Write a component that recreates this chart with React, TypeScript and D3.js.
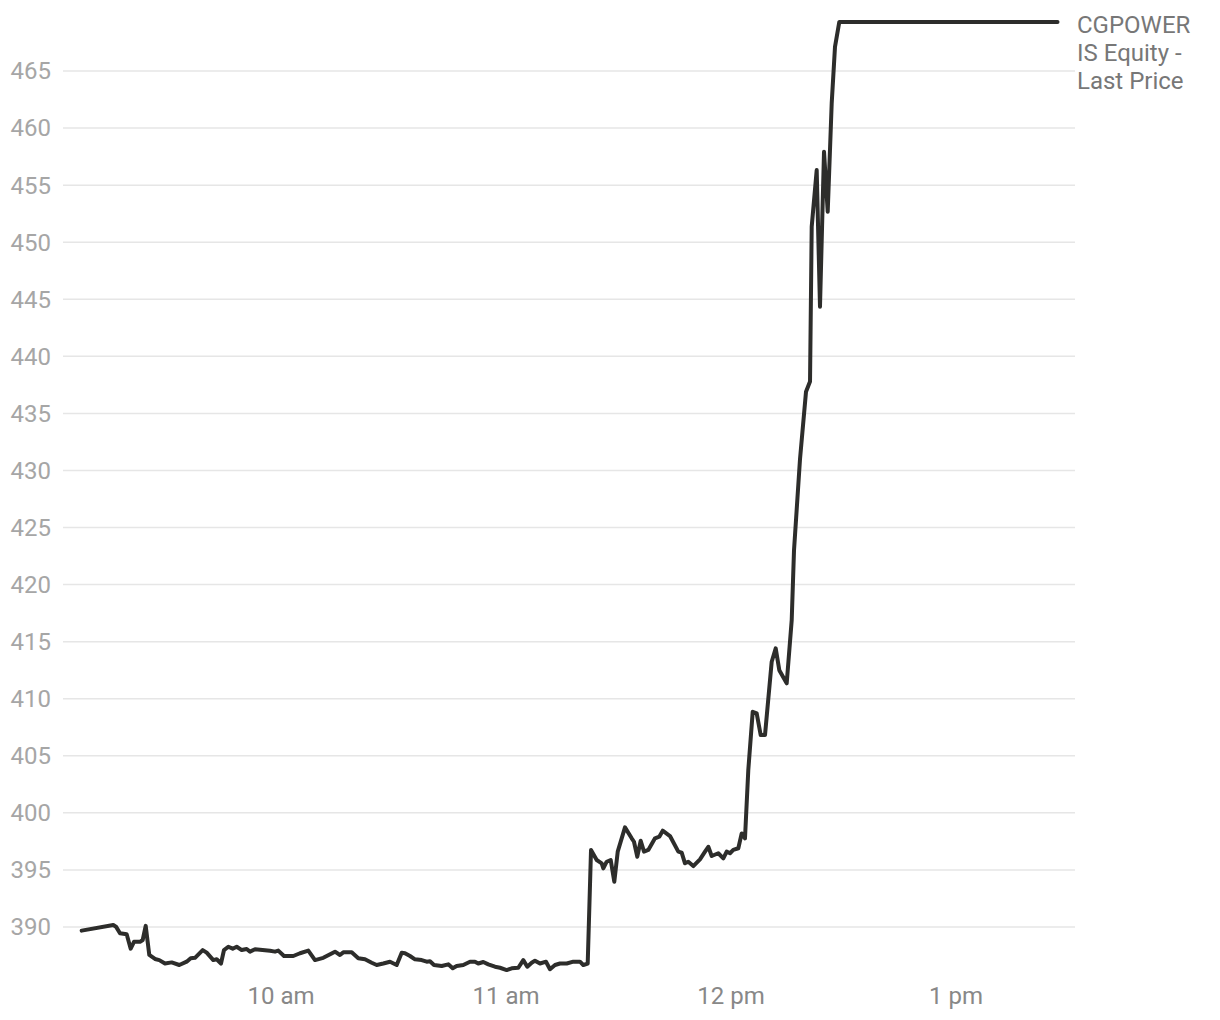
import React from "react";
import * as d3 from "d3";

// minutes after 09:00
const minutes = [
  6.85, 15.28, 16.0, 17.07, 18.85, 19.92, 20.8, 22.4, 23.12, 23.92, 24.88, 26.4, 27.55, 29.07, 30.85, 32.88,
  34.85, 35.92, 37.07, 39.12, 40.19, 41.95, 42.85, 44.0, 44.8, 45.95, 47.12, 48.19, 49.52, 50.85, 51.73,
  53.07, 57.07, 58.4, 59.28, 60.8, 63.28, 65.07, 67.28, 69.07, 71.28, 74.4, 75.73, 76.61, 78.85, 80.61,
  82.4, 84.19, 85.52, 87.28, 89.07, 90.85, 92.19, 93.07, 94.4, 95.73, 97.52, 98.85, 99.73, 100.8, 102.85,
  104.61, 105.79, 106.85, 108.61, 110.4, 111.73, 112.61, 113.95, 115.28, 117.07, 118.4, 120.19, 121.52,
  123.28, 124.61, 125.68, 126.85, 127.73, 129.07, 130.67, 131.73, 133.07, 134.4, 136.19, 137.95, 139.73,
  140.61, 141.79, 142.67, 144.19, 145.52, 145.95, 146.85, 147.92, 148.88, 149.79, 151.73, 153.52, 154.13,
  155.01, 155.92, 156.8, 157.95, 159.73, 160.88, 161.79, 163.73, 165.95, 166.85, 167.73, 168.61, 169.95,
  171.73, 173.07, 173.95, 174.85, 176.61, 177.95, 178.85, 179.73, 180.61, 181.95, 182.85, 183.73, 184.61,
  185.79, 186.85, 187.92, 189.07, 190.85, 191.92, 192.88, 194.85, 196.19, 196.8, 198.4, 200.0, 201.07,
  201.52, 202.85, 203.73, 204.8, 205.79, 206.85, 207.73, 208.88, 267.07,
];

const prices = [
  389.68, 390.17, 390.03, 389.45, 389.36, 388.1, 388.7, 388.7, 388.86, 390.1, 387.55, 387.2, 387.1, 386.8,
  386.9, 386.67, 386.96, 387.26, 387.3, 387.98, 387.75, 387.1, 387.17, 386.8, 387.98, 388.27, 388.1, 388.27,
  387.98, 388.07, 387.84, 388.05, 387.92, 387.84, 387.93, 387.46, 387.46, 387.7, 387.93, 387.1, 387.3,
  387.84, 387.55, 387.78, 387.78, 387.26, 387.17, 386.87, 386.67, 386.8, 386.96, 386.67, 387.75, 387.7,
  387.46, 387.17, 387.1, 386.96, 387.0, 386.67, 386.58, 386.73, 386.38, 386.58, 386.67, 386.96, 386.96,
  386.8, 386.93, 386.73, 386.52, 386.43, 386.23, 386.38, 386.43, 387.1, 386.52, 386.87, 387.05, 386.8,
  386.96, 386.3, 386.67, 386.8, 386.8, 386.96, 386.96, 386.67, 386.8, 396.75, 395.87, 395.58, 395.14,
  395.72, 395.87, 393.97, 396.6, 398.73, 397.77, 397.47, 396.16, 397.56, 396.6, 396.75, 397.77, 397.91,
  398.44, 397.97, 396.6, 396.51, 395.58, 395.72, 395.34, 395.93, 396.6, 397.03, 396.22, 396.46, 396.02,
  396.6, 396.46, 396.75, 396.9, 398.2, 397.77, 403.75, 408.86, 408.72, 406.82, 406.82, 413.24, 414.41,
  412.5, 411.35, 416.9, 423.0, 431.0, 436.9, 437.8, 451.35, 456.32, 444.35, 457.93, 452.67, 462.16, 467.12,
  469.3, 469.3,
];

const yTicks = [390, 395, 400, 405, 410, 415, 420, 425, 430, 435, 440, 445, 450, 455, 460, 465];
const xTickHours = [10, 11, 12, 13];
const seriesName = ["CGPOWER", "IS Equity -", "Last Price"];

const base = new Date(2024, 0, 2, 9, 0, 0);
const toDate = (m: number) => new Date(base.getTime() + m * 60000);

export default function App() {
  const width = 1220;
  const height = 1020;
  const left = 63;
  const right = 1075;

  const x = d3
    .scaleTime()
    .domain([toDate(1.87), toDate(271.73)])
    .range([left, right]);
  const y = d3.scaleLinear().domain([390, 465]).range([927, 71]);

  const data = minutes.map((m, i) => ({ t: toDate(m), v: prices[i] }));
  const line = d3
    .line<{ t: Date; v: number }>()
    .x((d) => x(d.t))
    .y((d) => y(d.v));

  const fmtHour = (h: number) => {
    const hh = h % 12 === 0 ? 12 : h % 12;
    return `${hh} ${h < 12 ? "am" : "pm"}`;
  };

  const font = "Roboto, 'Noto Sans', sans-serif";

  return (
    <svg
      width={width}
      height={height}
      style={{ position: "absolute", left: 0, top: 0, background: "#fff" }}
      fontFamily={font}
    >
      {yTicks.map((t) => (
        <g key={t}>
          <line x1={left} x2={right} y1={y(t)} y2={y(t)} stroke="#e6e6e6" strokeWidth={1.5} />
          <text x={51} y={y(t)} dy="0.35em" textAnchor="end" fontSize={24} fill="#a6a6a6">
            {t}
          </text>
        </g>
      ))}
      {xTickHours.map((h) => {
        const d = new Date(base.getTime() + (h - 9) * 3600000);
        return (
          <text key={h} x={x(d)} y={996} dy="0.35em" textAnchor="middle" fontSize={24} fill="#888">
            {fmtHour(h)}
          </text>
        );
      })}
      <path
        d={line(data) || ""}
        fill="none"
        stroke="#2d2d2b"
        strokeWidth={4}
        strokeLinejoin="round"
        strokeLinecap="round"
      />
      {seriesName.map((s, i) => (
        <text key={s} x={1077} y={25 + i * 28} dy="0.35em" fontSize={24} fill="#777">
          {s}
        </text>
      ))}
    </svg>
  );
}
